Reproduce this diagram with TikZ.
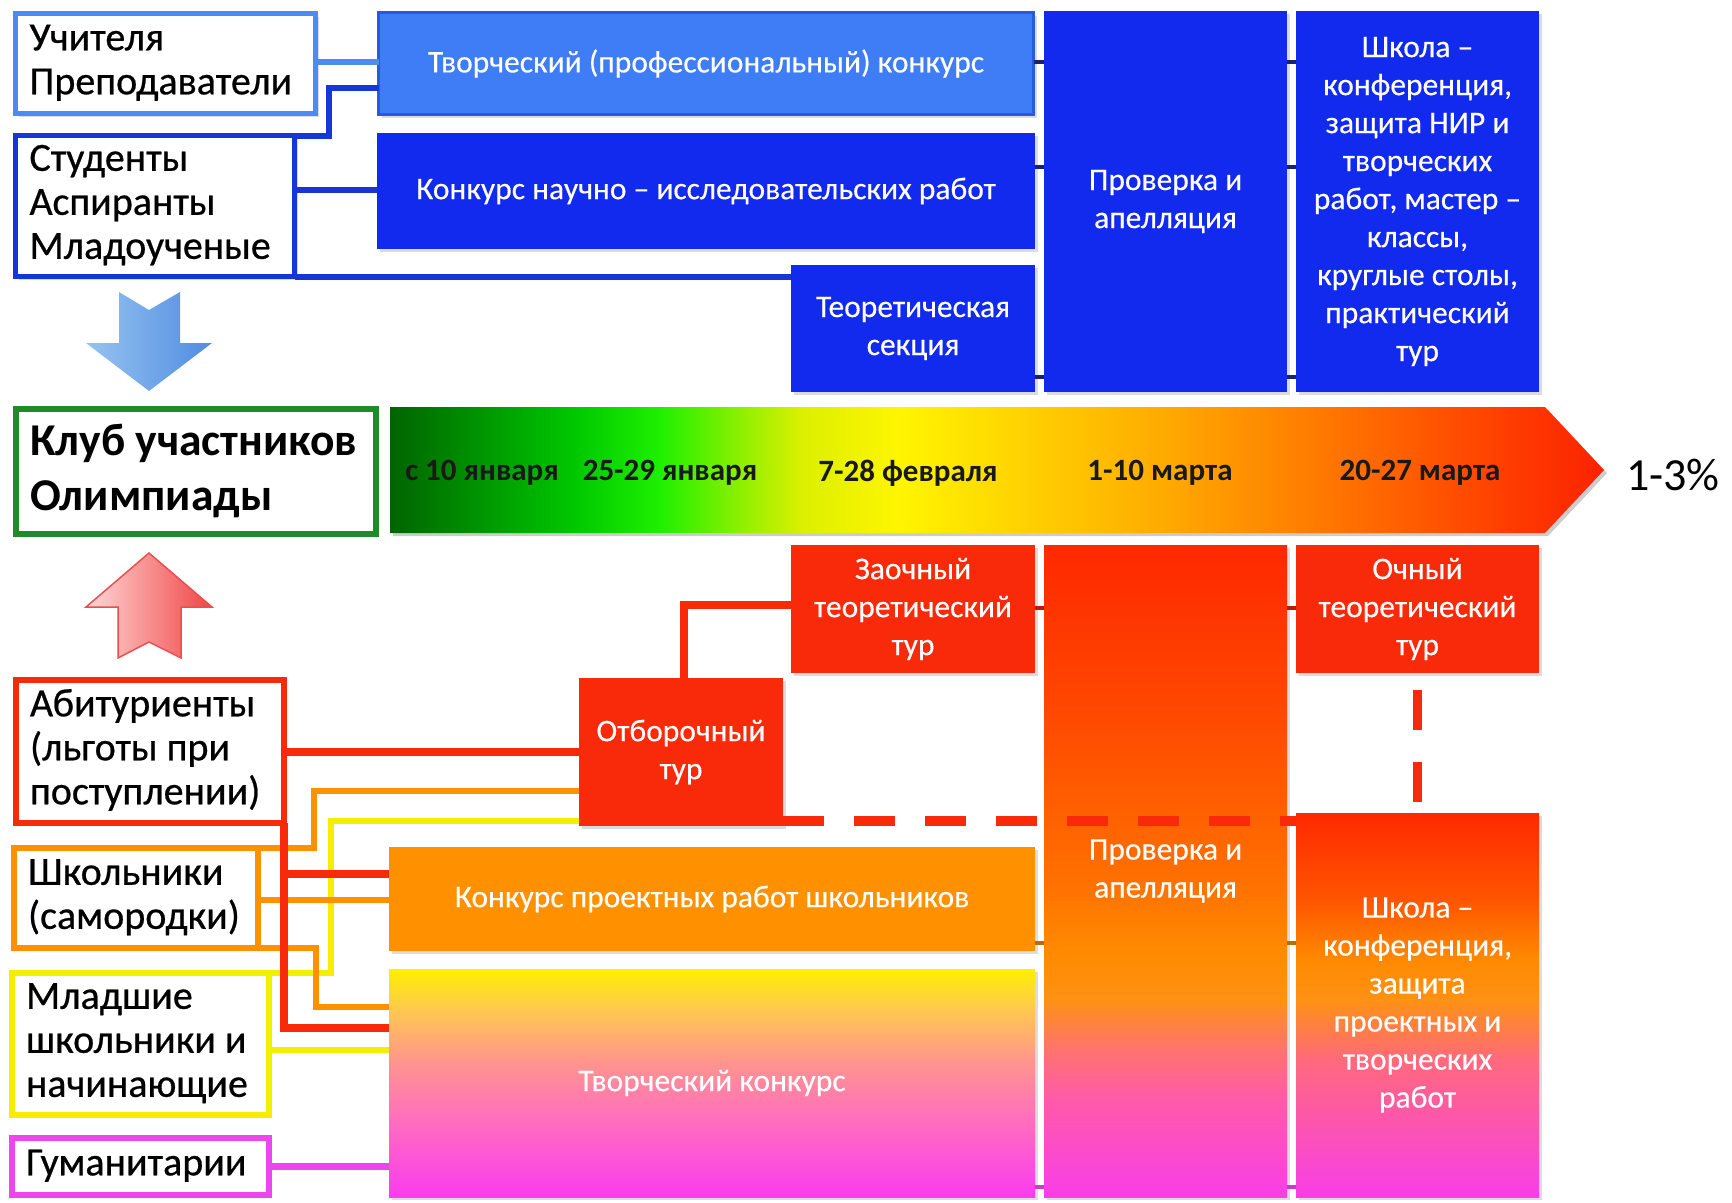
\documentclass[tikz,border=0pt]{standalone}
\usepackage{fontspec}
\setmainfont{Carlito}
\newfontfamily\lblfont{Carlito}[FakeBold=0.6]
\newfontfamily\bxfont{Carlito}[FakeBold=0.3]
\usetikzlibrary{shadows}
\newcommand{\lns}[1]{\spaceskip=0pt\xspaceskip=0pt\begin{tabular}{@{}l@{}}#1\end{tabular}}
% colours
\definecolor{lblue}{RGB}{74,140,240}
\definecolor{mblue}{RGB}{62,125,245}
\definecolor{mblueB}{RGB}{40,90,225}
\definecolor{dblue}{RGB}{18,42,238}
\definecolor{sblue}{RGB}{22,55,215}
\definecolor{gborder}{RGB}{30,140,40}
\definecolor{rred}{RGB}{248,42,10}
\definecolor{oorange}{RGB}{255,145,0}
\definecolor{yyellow}{RGB}{245,238,0}
\definecolor{mmag}{RGB}{238,70,238}
\definecolor{navy}{RGB}{25,35,110}
\definecolor{stubred}{RGB}{180,30,10}
\definecolor{stubor}{RGB}{185,110,0}
\definecolor{stubmag}{RGB}{200,60,200}
% timeline
\definecolor{tA}{RGB}{0,100,0}
\definecolor{tB}{RGB}{0,200,0}
\definecolor{tC}{RGB}{30,240,0}
\definecolor{tD}{RGB}{150,240,0}
\definecolor{tE}{RGB}{220,240,0}
\definecolor{tF}{RGB}{255,245,0}
\definecolor{tG}{RGB}{255,170,0}
\definecolor{tH}{RGB}{255,120,0}
\definecolor{tI}{RGB}{255,60,0}
\definecolor{tJ}{RGB}{250,35,0}
\pgfdeclarehorizontalshading{tlshade}{100bp}{color(0bp)=(tA); color(25bp)=(tA); color(32.6bp)=(tB); color(36.1bp)=(tC); color(39.7bp)=(tD); color(42bp)=(tE); color(46bp)=(tF); color(56.9bp)=(tG); color(63.5bp)=(tH); color(71.1bp)=(tI); color(75bp)=(tJ); color(100bp)=(tJ)}
% check / school gradients
\definecolor{pA}{RGB}{248,62,232}
\definecolor{pB}{RGB}{255,90,170}
\definecolor{pC}{RGB}{255,115,110}
\definecolor{pCC}{RGB}{255,105,125}
\definecolor{pD}{RGB}{255,145,20}
\definecolor{pE}{RGB}{255,138,0}
\definecolor{pF}{RGB}{255,112,0}
\definecolor{pFF}{RGB}{255,85,0}
\definecolor{pG}{RGB}{255,70,0}
\definecolor{pH}{RGB}{255,40,0}
\pgfdeclareverticalshading{provshade}{100bp}{color(0bp)=(pA); color(25bp)=(pA); color(32.4bp)=(pB); color(36.3bp)=(pC); color(40.1bp)=(pD); color(43.9bp)=(pE); color(49.3bp)=(pF); color(63.1bp)=(pG); color(75bp)=(pH); color(100bp)=(pH)}
\pgfdeclareverticalshading{shkshade}{100bp}{color(0bp)=(pA); color(25bp)=(pA); color(42.8bp)=(pCC); color(50.6bp)=(pD); color(55.9bp)=(pE); color(63.7bp)=(pFF); color(75bp)=(pH); color(100bp)=(pH)}
% creative contest gradient
\definecolor{kA}{RGB}{250,60,240}
\definecolor{kB}{RGB}{255,110,190}
\definecolor{kC}{RGB}{255,150,140}
\definecolor{kD}{RGB}{255,200,80}
\definecolor{kE}{RGB}{255,240,0}
\pgfdeclareverticalshading{tkshade}{100bp}{color(0bp)=(kA); color(25bp)=(kA); color(41.9bp)=(kB); color(55bp)=(kC); color(66bp)=(kD); color(75bp)=(kE); color(100bp)=(kE)}
% arrows
\definecolor{arB1}{RGB}{150,195,240}
\definecolor{arB2}{RGB}{80,140,225}
\definecolor{arR1}{RGB}{255,215,215}
\definecolor{arR2}{RGB}{240,70,70}
\definecolor{arRd}{RGB}{230,80,80}

\tikzset{
  shd/.style={drop shadow={shadow xshift=3pt, shadow yshift=-3pt, opacity=0.28}},
  box/.style={inner sep=0pt, outer sep=0pt, align=center, text=white,
    font=\bxfont\fontsize{31.5}{38}\selectfont, shd},
  bluebox/.style={box, fill=dblue},
  redbox/.style={box, fill=rred},
  lblbox/.style={draw, line width=5pt, fill=white, inner ysep=0pt, inner xsep=14pt, outer sep=0pt,
    align=left, text=black, font=\lblfont\fontsize{40}{44}\selectfont, shd},
  datef/.style={inner sep=0pt, font=\bfseries\fontsize{31}{34}\selectfont, text=black!90},
  bline/.style={line width=6pt},
  stub/.style={line width=4pt, navy},
  colline/.style={line width=6.5pt},
  redline/.style={line width=8pt, rred},
}

\begin{document}
\begin{tikzpicture}[x=1pt,y=-1pt]
\useasboundingbox (0,0) rectangle (1732,1202);

% ---------------- top (blue) part ----------------
\node[lblbox, draw=lblue, text width=272pt, minimum width=300pt, minimum height=100pt] (uch) at (165.5,63.5) {\lns{Учителя\\Преподаватели}};
\node[lblbox, draw=sblue, text width=251pt, minimum width=279pt, minimum height=141pt] (stud) at (155,206) {\lns{Студенты\\Аспиранты\\Младоученые}};

\node[box, fill=mblue, draw=mblueB, line width=2.5pt, minimum width=655pt, minimum height=102pt] (tvp) at (706,63.5) {Творческий (профессиональный) конкурс};
\node[bluebox, minimum width=658pt, minimum height=116pt] (kni) at (706,191) {Конкурс научно – исследовательских работ};
\node[bluebox, minimum width=244pt, minimum height=127pt] (teor) at (913,328.5) {Теоретическая\\секция};
\node[bluebox, minimum width=243pt, minimum height=381pt] (prov1) at (1165.5,201.5) {Проверка и\\апелляция};
\node[bluebox, minimum width=243pt, minimum height=381pt] (shk1) at (1417.5,201.5) {Школа –\\конференция,\\защита НИР и\\творческих\\работ, мастер –\\классы,\\круглые столы,\\практический\\тур};

\draw[bline, lblue] (uch.east |- 0,62) -- (tvp.west |- 0,62);
\draw[bline, sblue] (stud.north east) -- ++(34,0) |- (tvp.west |- 0,88);
\draw[bline, sblue] (stud.east |- 0,190) -- (kni.west |- 0,190);
\draw[bline, sblue] (stud.south east) -- (teor.west |- stud.south east);

\draw[stub] (tvp.east |- 0,62) -- (prov1.west |- 0,62);
\draw[stub] (kni.east |- 0,167) -- (prov1.west |- 0,167);
\draw[stub] (teor.east |- 0,377) -- (prov1.west |- 0,377);
\draw[stub] (prov1.east |- 0,62) -- (shk1.west |- 0,62);
\draw[stub] (prov1.east |- 0,167) -- (shk1.west |- 0,167);
\draw[stub] (prov1.east |- 0,377) -- (shk1.west |- 0,377);

% ---------------- middle ----------------
\shade[left color=arB1, right color=arB2] (119,292) -- (149,310) -- (180,292) -- (180,343) -- (212,343) -- (149,391) -- (86,343) -- (119,343) -- cycle;

\node[lblbox, draw=gborder, line width=6pt, font=\fontsize{45.5}{55}\selectfont\bfseries, text width=332pt, minimum width=360pt, minimum height=125pt] (klub) at (196,471.5) {\lns{Клуб участников\\Олимпиады}};

\fill[black, opacity=0.2] (393,410) -- (1548,410) -- (1607,473) -- (1548,536) -- (393,536) -- cycle;
\shade[shading=tlshade] (390,407) -- (1545,407) -- (1604,470) -- (1545,533) -- (390,533) -- cycle;

\node[datef] (d1) at (482,473) {с 10 января};
\node[datef] (d2) at (670,473) {25-29 января};
\node[datef] (d3) at (908,473) {7-28 февраля};
\node[datef] (d4) at (1160,473) {1-10 марта};
\node[datef] (d5) at (1420,473) {20-27 марта};
\node[inner sep=0pt, font=\fontsize{46}{50}\selectfont] (pct) at (1673,475) {1-3\%};

\shade[left color=arR1, right color=arR2, draw=arRd, line width=1.5pt] (118,658) -- (149,642) -- (181,658) -- (181,607) -- (212,607) -- (149,553) -- (86,607) -- (118,607) -- cycle;

% ---------------- bottom (red) part ----------------
\node[redbox, minimum width=244pt, minimum height=128pt] (zaoch) at (913,609) {Заочный\\теоретический\\тур};
\node[box, shade, shading=provshade, minimum width=243pt, minimum height=652pt] (prov2) at (1165.5,871) {Проверка и\\апелляция};
\node[redbox, minimum width=243pt, minimum height=128pt] (ochn) at (1417.5,609) {Очный\\теоретический\\тур};
\node[redbox, minimum width=204pt, minimum height=148pt] (otb) at (681,752) {Отборочный\\тур};
\node[box, shade, shading=shkshade, minimum width=243pt, minimum height=384pt] (shk2) at (1417.5,1005) {Школа –\\конференция,\\защита\\проектных и\\творческих\\работ};
\node[box, fill=oorange, minimum width=646pt, minimum height=104pt] (kpr) at (712,899) {Конкурс проектных работ школьников};
\node[box, shade, shading=tkshade, minimum width=646pt, minimum height=228pt] (tk) at (712,1083) {Творческий конкурс};

\node[lblbox, draw=rred, line width=6pt, text width=240pt, minimum width=268pt, minimum height=143pt] (abit) at (150,751.5) {\lns{Абитуриенты\\(льготы при\\поступлении)}};
\node[lblbox, draw=oorange, line width=6pt, text width=216pt, minimum width=244pt, minimum height=100pt] (shkol) at (136,898) {\lns{Школьники\\(самородки)}};
\node[lblbox, draw=yyellow, line width=6pt, text width=229pt, minimum width=257pt, minimum height=142pt] (mlad) at (140.5,1044) {\lns{Младшие\\школьники и\\начинающие}};
\node[lblbox, draw=mmag, line width=6pt, text width=229pt, minimum width=257pt, minimum height=57pt] (gum) at (140.5,1166.5) {\lns{Гуманитарии}};

% connectors (left group)
\draw[colline, yyellow] (mlad.north east) -- ++(62,0) |- (otb.west |- 0,821);
\draw[colline, yyellow] (mlad.east |- 0,1050) -- (tk.west |- 0,1050);
\draw[colline, mmag] (gum.east) -- (gum.east -| tk.west);
\draw[colline, oorange] (shkol.north east) -- ++(56,0) |- (otb.west |- 0,791);
\draw[colline, oorange] (shkol.east |- 0,900) -- (kpr.west |- 0,900);
\draw[colline, oorange] (shkol.south east) -- ++(58,0) |- (tk.west |- 0,1007);
\draw[redline] (abit.east |- 0,752) -- (otb.west |- 0,752);
\draw[redline] (abit.south east) |- (tk.west |- 0,1028);
\draw[redline] (abit.south east |- 0,874) -- (kpr.west |- 0,874);
\draw[redline] ([xshift=3pt]otb.north) |- (zaoch.west |- 0,605);

% dashed links
\draw[rred, line width=10pt, dash pattern=on 41pt off 30pt] (otb.east |- 0,821) -- (shk2.west |- 0,821);
\draw[rred, line width=9pt, dash pattern=on 40pt off 32pt, dash phase=55pt] (ochn.south) -- (shk2.north);

% short links between columns
\draw[stub, stubred] (zaoch.east |- 0,608) -- (prov2.west |- 0,608);
\draw[stub, stubred] (prov2.east |- 0,608) -- (ochn.west |- 0,608);
\draw[stub, stubor] (kpr.east |- 0,943) -- (prov2.west |- 0,943);
\draw[stub, stubor] (prov2.east |- 0,943) -- (shk2.west |- 0,943);
\draw[stub, stubmag] (tk.east |- 0,1187) -- (prov2.west |- 0,1187);
\draw[stub, stubmag] (prov2.east |- 0,1187) -- (shk2.west |- 0,1187);
\end{tikzpicture}
\end{document}
